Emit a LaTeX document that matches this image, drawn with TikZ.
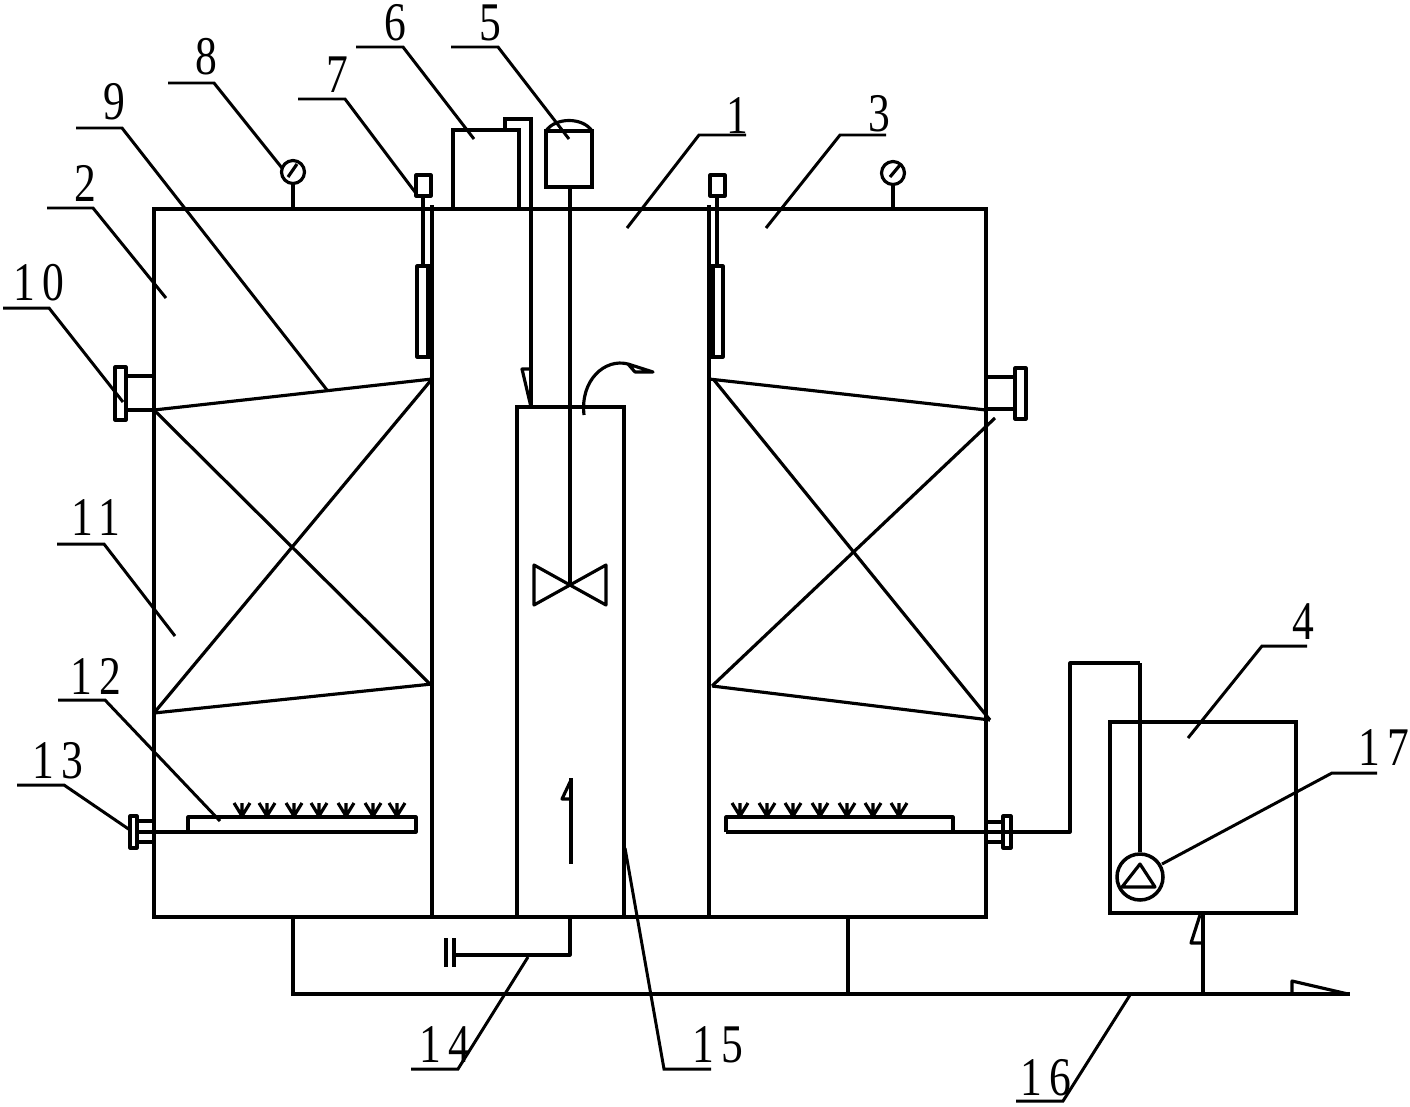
\documentclass[tikz,border=0pt]{standalone}
\usepackage{fontspec}
\setmainfont[LetterSpace=12,FakeStretch=0.8]{Liberation Serif}
\usepackage{xcolor}
\usetikzlibrary{positioning}
\usetikzlibrary{arrows.meta}

\begin{document}
\begin{tikzpicture}[
    x = 0.02cm, y = -0.02cm,
    wall/.style = { draw, black, line width = 2pt, line cap = rect },
    thin/.style = { draw, black, line width = 1.8pt, line join = round },
    lead/.style = { draw, black, line width = 1.7pt },
    num/.style = { font = \fontsize{31}{31}\selectfont, inner sep = 0pt, outer sep = 0pt },
    gauge/.style = { circle, draw, black, fill = white, line width = 1.8pt, minimum width = 0.46 cm, inner sep = 0pt },
    pump/.style = { circle, draw, black, line width = 2pt, minimum width = 0.92 cm, inner sep = 0pt },
    sprout/.pic = { \draw[thin] (0,-14) -- (0,0) (-8,-14) -- (0,-1) -- (8,-14); },
  ]
  \useasboundingbox (0,0) rectangle (1410,1106);

  % tank and inner walls
  \draw[wall] (154,209) rectangle (986,917);
  \draw[wall] (432,207) -- (432,917);
  \draw[wall] (709,207) -- (709,917);
  \draw[wall] (517,917) -- (517,407) -- (624,407) -- (624,917);

  % dosing box and motor
  \draw[wall] (453,130) rectangle (519,209);
  \draw[wall] (505,130) -- (505,119) -- (531,119) -- (531,407);
  \draw[thin] (531,407) -- (522,369) -- (531,369);
  \draw[wall] (546,131) rectangle (592,187);
  \draw[thin] (546,131) .. controls (555,117) and (583,117) .. (592,131);
  \draw[wall] (570,187) -- (570,585);
  \draw[thin] (570,585) -- (534,565) -- (534,605) -- (606,565) -- (606,605) -- cycle;
  \draw[thin] (584,415) .. controls (580,380) and (605,358) .. (628,364) -- (635,372) -- (653,372) -- (628,364);
  \draw[wall] (571,780) -- (571,862);
  \draw[thin] (571,780) -- (562,799) -- (571,799);

  % level sensors
  \draw[thin] (416,175) rectangle (431,196);
  \draw[thin] (423,196) -- (423,266);
  \draw[thin] (417,266) rectangle (432,357);
  \fill[black] (426,266) rectangle (434,357);
  \draw[thin] (710,175) rectangle (725,196);
  \draw[thin] (717,196) -- (717,266);
  \draw[thin] (710,266) rectangle (723,357);
  \fill[black] (707,266) rectangle (715,357);

  % gauges
  \node[gauge] (GaugeLeft) at (293,172) {};
  \node[gauge] (GaugeRight) at (893,173) {};
  \coordinate (GaugeLeftBase) at (293,209);
  \coordinate (GaugeRightBase) at (893,209);
  \draw[thin] (GaugeLeft) -- (GaugeLeftBase);
  \draw[thin] (GaugeRight) -- (GaugeRightBase);
  \draw[thin] (288,177) -- (297,164);
  \draw[thin] (890,177) -- (900,165);

  % filler left and right
  \draw[thin] (154,410) -- (432,379);
  \draw[thin] (154,713) -- (432,684);
  \draw[thin] (154,410) -- (430,684);
  \draw[thin] (154,713) -- (432,379);
  \draw[thin] (709,379) -- (986,410);
  \draw[thin] (712,686) -- (990,720);
  \draw[thin] (714,380) -- (990,720);
  \draw[thin] (712,686) -- (995,418);

  % flanges
  \draw[thin] (115,367) rectangle (126,420);
  \draw[thin] (126,376) -- (154,376) (126,410) -- (154,410);
  \draw[thin] (1015,368) rectangle (1026,419);
  \draw[thin] (986,377) -- (1015,377) (986,409) -- (1015,409);
  \draw[thin] (130,816) rectangle (137,848);
  \draw[thin] (137,821) -- (154,821) (137,842) -- (154,842);
  \draw[thin] (1003,816) rectangle (1011,848);
  \draw[thin] (986,822) -- (1003,822) (986,842) -- (1003,842);

  % aerators
  \draw[thin] (137,832) -- (416,832) -- (416,817) -- (188,817) -- (188,832);
  \draw[thin] (726,832) -- (726,817) -- (953,817) -- (953,832);
  \draw[thin] (726,832) -- (1070,832) -- (1070,663) -- (1140,663);
  \pic at (242,817) {sprout}; \pic at (267,817) {sprout}; \pic at (294,817) {sprout};
  \pic at (319,817) {sprout}; \pic at (346,817) {sprout}; \pic at (373,817) {sprout};
  \pic at (397,817) {sprout};
  \pic at (740,817) {sprout}; \pic at (767,817) {sprout}; \pic at (793,817) {sprout};
  \pic at (820,817) {sprout}; \pic at (847,817) {sprout}; \pic at (873,817) {sprout};
  \pic at (899,817) {sprout};

  % water tank and pump
  \draw[wall] (1110,722) rectangle (1296,913);
  \node[pump] (Pump) at (1140,877) {};
  \coordinate (PumpPipe) at (1140,663);
  \draw[thin] (PumpPipe) -- (Pump);
  \draw[thin] (1140,864) -- (1122,887) -- (1155,887) -- cycle;

  % bottom pipes
  \draw[wall] (293,917) -- (293,994) -- (1348,994);
  \draw[wall] (848,917) -- (848,994);
  \draw[wall] (1203,913) -- (1203,994);
  \draw[thin] (1200,915) -- (1191,943) -- (1203,943);
  \draw[thin] (1292,994) -- (1292,981) -- (1348,994);
  \draw[thin] (570,917) -- (570,955) -- (454,955);
  \draw[wall] (454,940) -- (454,965);
  \draw[wall] (446,940) -- (446,965);

  % numbers and leaders
  \node[num] (Num1) at (737,116) {1};
  \coordinate (Tip1) at (627,228); \coordinate (Knee1) at (699,135); \coordinate (Tail1) at (746,135);
  \draw[lead] (Tip1) -- (Knee1) -- (Tail1);
  \node[num] (Num2) at (85,183) {2};
  \coordinate (Tip2) at (166,298); \coordinate (Knee2) at (93,208); \coordinate (Tail2) at (47,208);
  \draw[lead] (Tip2) -- (Knee2) -- (Tail2);
  \node[num] (Num3) at (879,114) {3};
  \coordinate (Tip3) at (766,228); \coordinate (Knee3) at (840,135); \coordinate (Tail3) at (886,135);
  \draw[lead] (Tip3) -- (Knee3) -- (Tail3);
  \node[num] (Num4) at (1303,622) {4};
  \coordinate (Tip4) at (1188,738); \coordinate (Knee4) at (1262,646); \coordinate (Tail4) at (1307,646);
  \draw[lead] (Tip4) -- (Knee4) -- (Tail4);
  \node[num] (Num5) at (490,23) {5};
  \coordinate (Tip5) at (569,139); \coordinate (Knee5) at (498,47); \coordinate (Tail5) at (451,47);
  \draw[lead] (Tip5) -- (Knee5) -- (Tail5);
  \node[num] (Num6) at (395,23) {6};
  \coordinate (Tip6) at (474,139); \coordinate (Knee6) at (403,47); \coordinate (Tail6) at (356,47);
  \draw[lead] (Tip6) -- (Knee6) -- (Tail6);
  \node[num] (Num7) at (337,75) {7};
  \coordinate (Tip7) at (415,192); \coordinate (Knee7) at (345,99); \coordinate (Tail7) at (298,99);
  \draw[lead] (Tip7) -- (Knee7) -- (Tail7);
  \node[num] (Num8) at (206,57) {8};
  \coordinate (Tip8) at (282,168); \coordinate (Knee8) at (214,83); \coordinate (Tail8) at (168,83);
  \draw[lead] (Tip8) -- (Knee8) -- (Tail8);
  \node[num] (Num9) at (114,102) {9};
  \coordinate (Tip9) at (327,390); \coordinate (Knee9) at (122,128); \coordinate (Tail9) at (76,128);
  \draw[lead] (Tip9) -- (Knee9) -- (Tail9);
  \node[num] (Num10) at (39,283) {10};
  \coordinate (Tip10) at (123,402); \coordinate (Knee10) at (49,308); \coordinate (Tail10) at (3,308);
  \draw[lead] (Tip10) -- (Knee10) -- (Tail10);
  \node[num] (Num11) at (96,518) {11};
  \coordinate (Tip11) at (175,636); \coordinate (Knee11) at (104,544); \coordinate (Tail11) at (57,544);
  \draw[lead] (Tip11) -- (Knee11) -- (Tail11);
  \node[num] (Num12) at (96,676) {12};
  \coordinate (Tip12) at (220,821); \coordinate (Knee12) at (105,700); \coordinate (Tail12) at (58,700);
  \draw[lead] (Tip12) -- (Knee12) -- (Tail12);
  \node[num] (Num13) at (58,761) {13};
  \coordinate (Tip13) at (130,830); \coordinate (Knee13) at (64,785); \coordinate (Tail13) at (17,785);
  \draw[lead] (Tip13) -- (Knee13) -- (Tail13);
  \node[num] (Num14) at (445,1045) {14};
  \coordinate (Tip14) at (528,957); \coordinate (Knee14) at (458,1069); \coordinate (Tail14) at (411,1069);
  \draw[lead] (Tip14) -- (Knee14) -- (Tail14);
  \node[num] (Num15) at (718,1045) {15};
  \coordinate (Tip15) at (625,848); \coordinate (Knee15) at (664,1069); \coordinate (Tail15) at (711,1069);
  \draw[lead] (Tip15) -- (Knee15) -- (Tail15);
  \node[num] (Num16) at (1046,1078) {16};
  \coordinate (Tip16) at (1130,995); \coordinate (Knee16) at (1063,1101); \coordinate (Tail16) at (1016,1101);
  \draw[lead] (Tip16) -- (Knee16) -- (Tail16);
  \node[num] (Num17) at (1384,748) {17};
  \coordinate (Tip17) at (1162,864); \coordinate (Knee17) at (1332,773); \coordinate (Tail17) at (1377,773);
  \draw[lead] (Tip17) -- (Knee17) -- (Tail17);
\end{tikzpicture}
\end{document}
